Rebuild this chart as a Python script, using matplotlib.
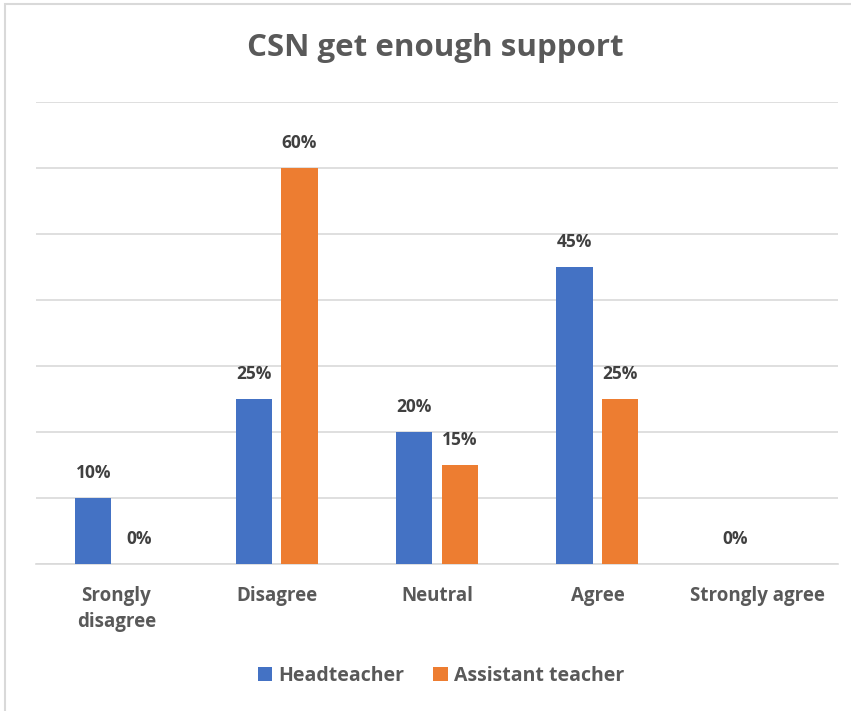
import matplotlib
matplotlib.use("Agg")
from matplotlib import pyplot as plt
from matplotlib.patches import Rectangle
import numpy as np

categories = ["Srongly\ndisagree", "Disagree", "Neutral", "Agree", "Strongly agree"]
headteacher = [10, 25, 20, 45, 0]
assistant = [0, 60, 15, 25, None]
yticks = [0, 10, 20, 30, 40, 50, 60, 70]

blue = "#4472C4"
orange = "#ED7D31"
grey = "#595959"
dark = "#404040"
font = "Open Sans"

fig = plt.figure(figsize=(8.51, 7.11), dpi=100)
W, H = 851, 711
ax = fig.add_axes([36 / W, (H - 564) / H, (838 - 36) / W, (564 - 102) / H])

x = np.arange(len(categories))
bw = 0.225
off = 0.143

hv = [v if v is not None else 0 for v in headteacher]
av = [v if v is not None else 0 for v in assistant]
ax.bar(x - off, hv, bw, color=blue, label="Headteacher", zorder=3)
ax.bar(x + off, av, bw, color=orange, label="Assistant teacher", zorder=3)

for xi, v in zip(x - off, headteacher):
    if v is not None:
        ax.annotate(f"{v}%", (xi, v), xytext=(0, 16), textcoords="offset pixels",
                    ha="center", va="bottom", fontsize=12.5, fontweight="bold",
                    color=dark, family=font)
for xi, v in zip(x + off, assistant):
    if v is not None:
        ax.annotate(f"{v}%", (xi, v), xytext=(0, 16), textcoords="offset pixels",
                    ha="center", va="bottom", fontsize=12.5, fontweight="bold",
                    color=dark, family=font)

ax.set_xlim(-0.5, len(categories) - 0.5)
ax.set_ylim(0, 70)
ax.set_yticks(yticks)
ax.yaxis.grid(True, color="#D9D9D9", linewidth=1.2, zorder=0)
ax.tick_params(axis="y", left=False, labelleft=False)
ax.tick_params(axis="x", bottom=False, pad=12)
ax.set_xticks(x)
ax.set_xticklabels(categories, fontsize=13.5, fontweight="bold", color=grey,
                   family=font, linespacing=1.45, va="top")
for s in ["top", "right", "left"]:
    ax.spines[s].set_visible(False)
ax.spines["bottom"].set_color("#D9D9D9")
ax.spines["bottom"].set_linewidth(1.2)

fig.text(435 / W, (H - 48) / H, "CSN get enough support", ha="center", va="center",
         fontsize=22.5, fontweight="bold", color=grey, family=font)

leg = fig.legend(loc="center", bbox_to_anchor=(441 / W, (H - 676) / H), ncol=2,
                 frameon=False, handlelength=0.75, handleheight=0.75,
                 handletextpad=0.3, columnspacing=1.5,
                 prop={"family": font, "weight": "bold", "size": 14})
for t in leg.get_texts():
    t.set_color(grey)

fig.patches.append(Rectangle((5 / W, -0.1), 1.2, (H - 4) / H + 0.1,
                             transform=fig.transFigure, fill=False,
                             edgecolor="#D9D9D9", linewidth=1.5))

fig.savefig("out.png", dpi=100)
